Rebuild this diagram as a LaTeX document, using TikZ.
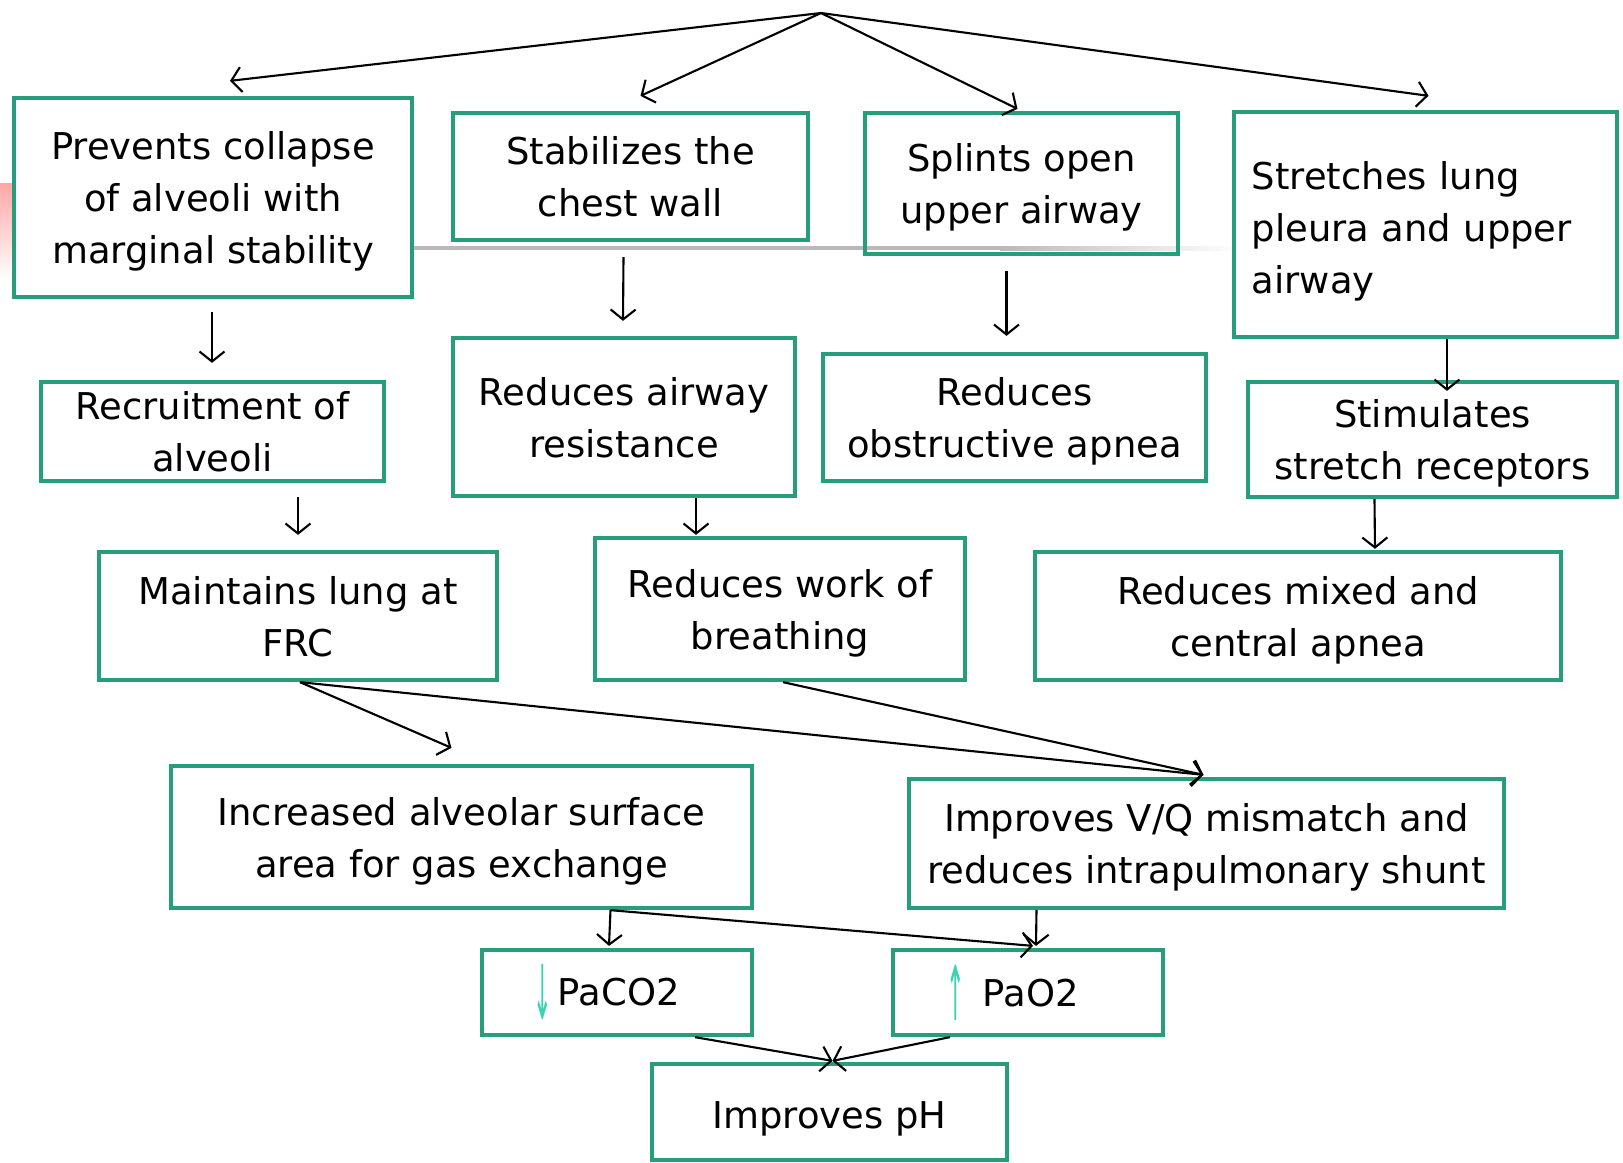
\documentclass[tikz,border=0pt]{standalone}
\usepackage{fontspec}
\setmainfont{DejaVu Sans}
\usetikzlibrary{calc,arrows.meta}
\definecolor{boxgreen}{RGB}{38,158,124}
\definecolor{tealarrow}{RGB}{60,212,176}
\newcommand{\dn}{{\color{tealarrow}\raisebox{-4pt}{\scalebox{0.6}[2.05]{↓}}}}
\newcommand{\up}{{\color{tealarrow}\raisebox{-4pt}{\scalebox{0.6}[2.05]{↑}}}}
\tikzset{
  box/.style={draw=boxgreen, line width=1.2pt, align=center, inner sep=0pt,
    font=\fontsize{10.5pt}{14.8pt}\selectfont,
    execute at begin node={\rule{0pt}{11.6pt}}},
  mbox/.style={box, text depth=-1pt},
  arr/.style={line width=0.6pt, -{Straight Barb[length=1mm,width=2.5mm]}}
}

\begin{document}
\begin{tikzpicture}[x=0.01cm, y=-0.01cm]
			%%%%% START %%%%%
			\useasboundingbox (0, 0) rectangle (1623, 1162);
			
			% slide leftovers
			\shade[top color=red!35, bottom color=white] (0, 183) rectangle (13, 280);
			\fill[gray!55] (412, 246) rectangle (1000, 250);
			\shade[left color=gray!55, right color=white] (1000, 246) rectangle (1240, 250);
			
			\coordinate (top) at (821, 13);
			
			\node[mbox, minimum width=3.97cm, minimum height=1.99cm] (prevent) at (213, 197.5) {Prevents collapse\\of alveoli with\\marginal stability};
			\node[mbox, minimum width=3.55cm, minimum height=1.27cm] (stabil) at (630.5, 176.5) {Stabilizes the\\chest wall};
			\node[mbox, minimum width=3.13cm, minimum height=1.41cm] (splint) at (1021.5, 183.5) {Splints open\\upper airway};
			\node[box, minimum width=3.83cm, minimum height=2.25cm, text width=3.47cm, align=left] (stretch) at (1425.5, 224.5) {Stretches lung\\pleura and upper\\airway};
			
			\node[mbox, minimum width=3.43cm, minimum height=0.99cm] (recruit) at (212.5, 431.5) {Recruitment of\\alveoli};
			\node[mbox, minimum width=3.42cm, minimum height=1.58cm] (resist) at (624, 417) {Reduces airway\\resistance};
			\node[mbox, minimum width=3.83cm, minimum height=1.27cm] (obstruct) at (1014.5, 417.5) {Reduces\\obstructive apnea};
			\node[mbox, minimum width=3.69cm, minimum height=1.15cm] (stimul) at (1432.5, 439.5) {Stimulates\\stretch receptors};
			
			\node[mbox, minimum width=3.98cm, minimum height=1.28cm] (maintain) at (298, 616) {Maintains lung at\\FRC};
			\node[mbox, minimum width=3.70cm, minimum height=1.42cm] (work) at (780, 609) {Reduces work of\\breathing};
			\node[mbox, minimum width=5.26cm, minimum height=1.28cm] (mixed) at (1298, 616) {Reduces mixed and\\central apnea};
			
			\node[mbox, minimum width=5.81cm, minimum height=1.42cm] (surface) at (461.5, 837) {Increased alveolar surface\\area for gas exchange};
			\node[mbox, minimum width=5.95cm, minimum height=1.29cm] (vq) at (1206.5, 843.5) {Improves V/Q mismatch and\\reduces intrapulmonary shunt};
			
			\node[box, minimum width=2.70cm, minimum height=0.85cm] (paco) at (617, 992.5) {\dn\hspace{0.06cm}PaCO2\hspace*{0.21cm}};
			\node[box, minimum width=2.70cm, minimum height=0.85cm] (pao) at (1028, 992.5) {\up\hspace{0.18cm}PaO2\hspace*{0.31cm}};
			\node[box, minimum width=3.55cm, minimum height=0.96cm] (ph) at (829.5, 1112) {Improves pH};
			
			%%%%% ARROWS %%%%%
			\draw[arr] (top) -- ($(prevent.north)+(17,-15)$);
			\draw[arr] (top) -- ($(stabil.north)+(10,-15)$);
			\draw[arr] (top) -- ($(splint.north)+(-4,-2)$);
			\draw[arr] (top) -- ($(stretch.north)+(3,-14)$);
			
			\draw[arr] ($(prevent.south)+(-1,13)$) -- ($(recruit.north)+(-0.5,-17)$);
			\draw[arr] ($(stabil.south)+(-7,15)$) -- ($(resist.north)+(-1,-15)$);
			\draw[arr] ($(splint.south)+(-15,15)$) -- ($(obstruct.north)+(-8,-16)$);
			\draw[arr] ($(stretch.south)+(21.5,0)$) -- ($(stimul.north)+(14.5,11)$);
			
			\draw[arr] ($(recruit.south)+(85.5,14)$) -- ($(maintain.north)+(0,-15)$);
			\draw[arr] ($(resist.south)+(72,0)$) -- ($(work.north)+(-84,-1)$);
			\draw[arr] ($(stimul.south)+(-58,0)$) -- ($(mixed.north)+(77,-1)$);
			
			\draw[arr] ($(maintain.south)+(2,0)$) -- ($(surface.north)+(-10,-16)$);
			\draw[arr] ($(maintain.south)+(2,0)$) -- ($(vq.north)+(-3,-2)$);
			\draw[arr] ($(work.south)+(3,0)$) -- ($(vq.north)+(-3,-2)$);
			
			\draw[arr] ($(surface.south)+(149,0)$) -- ($(paco.north)+(-8,-2)$);
			\draw[arr] ($(surface.south)+(149,0)$) -- ($(pao.north)+(5,-2)$);
			\draw[arr] ($(vq.south)+(-170,0)$) -- ($(pao.north)+(8,-2)$);
			
			\draw[arr] ($(paco.south)+(78,0)$) -- ($(ph.north)+(3,-1)$);
			\draw[arr] ($(pao.south)+(-78,0)$) -- ($(ph.north)+(3,-1)$);
			
			%%%%% END %%%%%
\end{tikzpicture}
\end{document}
